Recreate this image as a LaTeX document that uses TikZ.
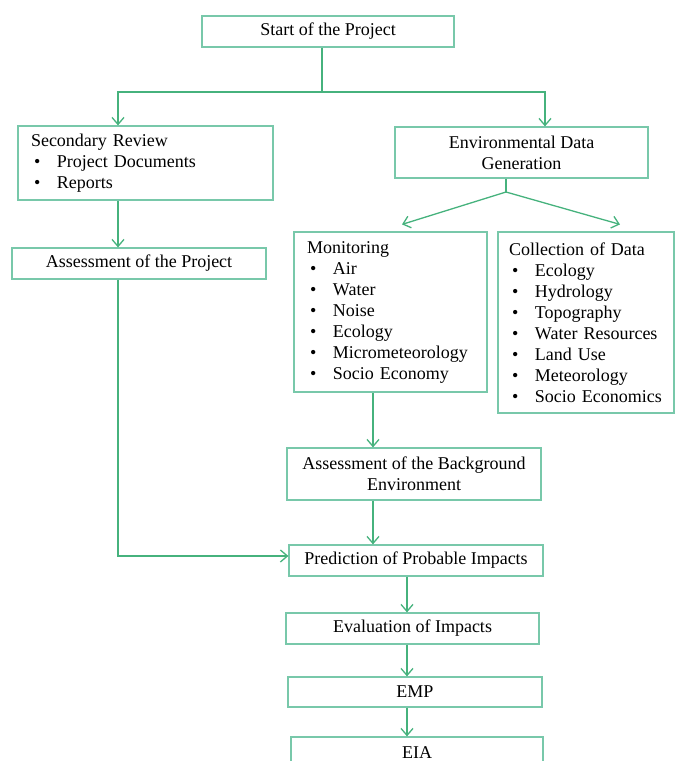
\documentclass[tikz,border=0pt]{standalone}
\usepackage{fontspec}
\setmainfont{Liberation Serif}
\usetikzlibrary{arrows.meta}

\definecolor{boxgreen}{RGB}{120,200,170}
\definecolor{flowgreen}{RGB}{70,178,125}
% one bullet line inside a list box
\newcommand{\bitem}[1]{\\\hspace*{3pt}\makebox[23pt][l]{\textbullet}#1}

\begin{document}
\begin{tikzpicture}[x=1pt,y=-1pt,
		blk/.style={draw=boxgreen,line width=1.2pt,align=center,inner sep=0pt,
			font=\fontsize{18}{21}\selectfont},
		lst/.style={blk,align=left,inner xsep=13pt},
		link/.style={draw=flowgreen,line width=1.3pt},
		flow/.style={link,-{Straight Barb[length=7pt,width=12pt]}}]
	\useasboundingbox (0,0) rectangle (676,761);
	\clip (0,0) rectangle (676,761);

	\node[blk,minimum width=252pt,minimum height=31pt] (start) at (328,31.5) {Start of the Project};
	\node[lst,text width=229pt,minimum height=74pt] (secrev) at (145.5,163)
		{Secondary Review\bitem{Project Documents}\bitem{Reports}};
	\node[blk,minimum width=253pt,minimum height=51pt] (envgen) at (521.5,152.5)
		{Environmental Data\\Generation};
	\node[blk,minimum width=254pt,minimum height=31pt] (assproj) at (139,263.5) {Assessment of the Project};
	\node[lst,text width=167pt,minimum height=160pt] (monit) at (390.5,312)
		{Monitoring\bitem{Air}\bitem{Water}\bitem{Noise}\bitem{Ecology}\bitem{Micrometeorology}\bitem{Socio Economy}};
	\node[lst,inner xsep=11pt,text width=154pt,minimum height=181pt] (collect) at (586,322.5)
		{Collection of Data\bitem{Ecology}\bitem{Hydrology}\bitem{Topography}\bitem{Water Resources}\bitem{Land Use}\bitem{Meteorology}\bitem{Socio Economics}};
	\node[blk,minimum width=254pt,minimum height=52pt] (backgr) at (414,474)
		{Assessment of the Background\\Environment};
	\node[blk,minimum width=254pt,minimum height=31pt] (predict) at (416,560.5) {Prediction of Probable Impacts};
	\node[blk,minimum width=253pt,minimum height=31pt] (evalim) at (412.5,628.5) {Evaluation of Impacts};
	\node[blk,minimum width=254pt,minimum height=30pt] (emp) at (415,692) {EMP};
	\node[blk,minimum width=252pt,minimum height=31pt] (eia) at (417,752.5) {EIA};

	% branch points and lanes
	\coordinate (split) at (322,92);
	\coordinate (fork) at (506,192);
	\coordinate (llane) at (118,0);
	\coordinate (rlane) at (545,0);
	\coordinate (mlane) at (373,0);
	\coordinate (plane) at (407,0);

	\draw[link] (start.south -| split) -- (split);
	\draw[flow] (split) -| (secrev.north -| llane);
	\draw[flow] (split) -| (envgen.north -| rlane);
	\draw[flow] (secrev.south -| llane) -- (assproj.north -| llane);
	\draw[flow] (assproj.south -| llane) |- ([yshift=4.5pt]predict.west);

	\draw[link] (envgen.south -| fork) -- (fork);
	\draw[flow] (fork) -- ([xshift=11.5pt,yshift=7pt]monit.north);
	\draw[flow] (fork) -- ([xshift=34pt,yshift=7pt]collect.north);

	\draw[flow] (monit.south -| mlane) -- (backgr.north -| mlane);
	\draw[flow] (backgr.south -| mlane) -- (predict.north -| mlane);
	\draw[flow] (predict.south -| plane) -- (evalim.north -| plane);
	\draw[flow] (evalim.south -| plane) -- (emp.north -| plane);
	\draw[flow] (emp.south -| plane) -- (eia.north -| plane);
\end{tikzpicture}
\end{document}
